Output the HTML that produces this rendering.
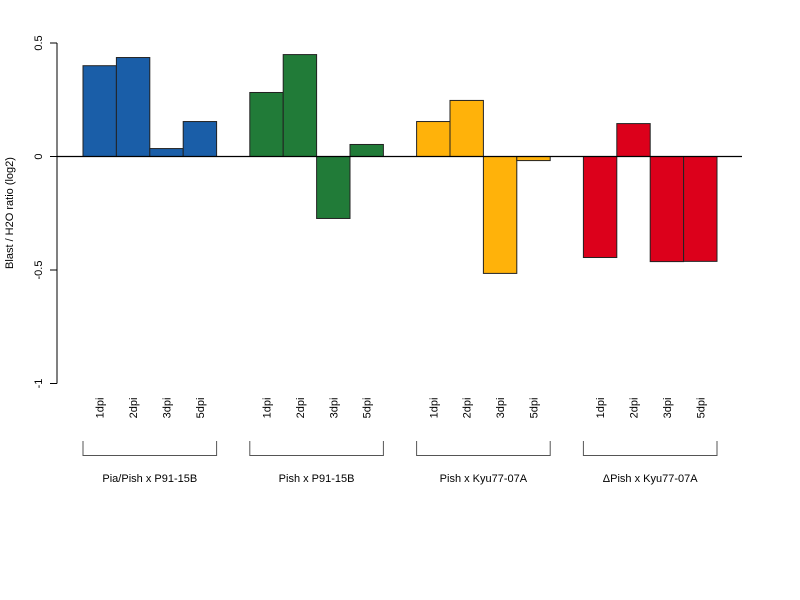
<!DOCTYPE html>
<html><head><meta charset="utf-8"><style>
body{margin:0;background:#fff;}
svg{display:block;font-family:"Liberation Sans",Arial,sans-serif;}
</style></head><body>
<svg id="chart" width="800" height="600" xmlns="http://www.w3.org/2000/svg"></svg>
<script>
const groups = ["Pia/Pish x P91-15B","Pish x P91-15B","Pish x Kyu77-07A","\u0394Pish x Kyu77-07A"];
const timepoints = ["1dpi","2dpi","3dpi","5dpi"];
const values_g1 = [0.40, 0.436, 0.035, 0.154];
const values_g2 = [0.282, 0.449, -0.273, 0.053];
const values_g3 = [0.154, 0.247, -0.515, -0.018];
const values_g4 = [-0.445, 0.145, -0.463, -0.462];
const yTicks = [0.5, 0, -0.5, -1];
const yTickLabels = ["0.5","0","-0.5","-1"];
const colors = ["#1a5ea8","#217b38","#ffb20a","#dc001b"];

const NS="http://www.w3.org/2000/svg";
const svg=document.getElementById('chart');
function el(tag,attrs,parent){const e=document.createElementNS(NS,tag);for(const k in attrs)e.setAttribute(k,attrs[k]);(parent||svg).appendChild(e);return e;}
const y=v=>156.5-v*227;
const barW=33.4;
const x=(g,i)=>83+g*166.8+i*barW;
const allVals=[values_g1,values_g2,values_g3,values_g4];

allVals.forEach((vals,g)=>{
  vals.forEach((v,i)=>{
    const r=el('rect',{x:x(g,i),y:Math.min(y(v),y(0)),width:barW,height:Math.max(Math.abs(y(v)-y(0)),0.5),fill:colors[g],stroke:'#222','stroke-width':1});
    
    
    const cx=x(g,i)+barW/2+4;
    const t=el('text',{x:0,y:0,transform:`translate(${cx},408) rotate(-90)`,'text-anchor':'middle','font-size':11,fill:'#000'});
    t.textContent=timepoints[i];
    
    
  });
  const x0=x(g,0), x1=x(g,3)+barW;
  const b=el('path',{d:`M${x0},441 V455.5 H${x1} V441`,fill:'none',stroke:'#555','stroke-width':1});
  
  
  const gl=el('text',{x:(x0+x1)/2,y:482,'text-anchor':'middle','font-size':11,fill:'#000'});
  gl.textContent=groups[g];
  
  
});

const zl=el('line',{x1:57,x2:742,y1:y(0),y2:y(0),stroke:'#000','stroke-width':1.3});


const ax=el('line',{x1:57,x2:57,y1:y(0.5),y2:y(-1),stroke:'#000','stroke-width':1});


yTicks.forEach((v,i)=>{
  const tk=el('line',{x1:50,x2:57,y1:y(v),y2:y(v),stroke:'#000','stroke-width':1});
  
  
  const tl=el('text',{x:0,y:0,transform:`translate(42,${y(v)}) rotate(-90)`,'text-anchor':'middle','font-size':11,fill:'#000'});
  tl.textContent=yTickLabels[i];
  
  
});
const yt=el('text',{x:0,y:0,transform:'translate(13,213) rotate(-90)','text-anchor':'middle','font-size':11,fill:'#000'});
yt.textContent='Blast / H2O ratio (log2)';


</script>
</body></html>
